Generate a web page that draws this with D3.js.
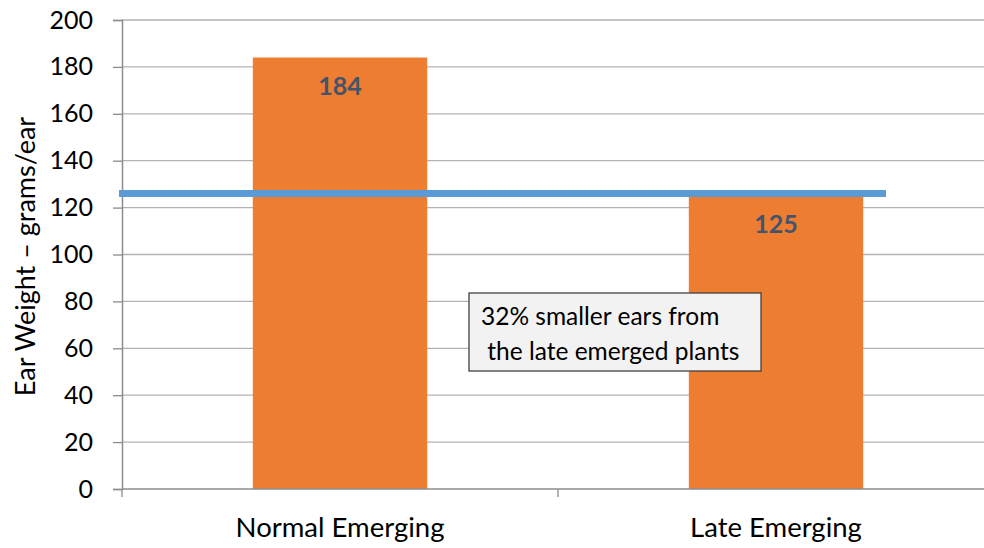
<!DOCTYPE html>
<html>
<head>
<meta charset="utf-8">
<script src="https://cdn.jsdelivr.net/npm/d3@7"></script>
<style>
  html, body { margin: 0; padding: 0; background: #fff; }
  svg { display: block; font-family: Lato, "Open Sans", sans-serif; }
</style>
</head>
<body>
<svg id="chart" width="984" height="548"></svg>
<script>
// Ear weight by emergence timing
const categories = ["Normal Emerging", "Late Emerging"];
const earWeight = [184, 125];
const yTicks = [0, 20, 40, 60, 80, 100, 120, 140, 160, 180, 200];
const referenceValue = 126;
const yTitle = "Ear Weight \u2013 grams/ear";
const noteLines = ["32% smaller ears from", " the late emerged plants"];

const svg = d3.select("#chart");
const plotLeft = 122, plotRight = 994, plotTop = 20, plotBottom = 489;

const x = d3.scaleBand().domain(categories).range([plotLeft, plotRight])
  .paddingInner(0.6).paddingOuter(0.3);
const y = d3.scaleLinear().domain([0, 200]).range([plotBottom, plotTop]);

// horizontal gridlines
svg.append("g").selectAll("line").data(yTicks.filter(d => d > 0)).join("line")
  .attr("x1", plotLeft).attr("x2", 984)
  .attr("y1", d => y(d)).attr("y2", d => y(d))
  .attr("stroke", "#b3b3b3").attr("stroke-width", 1.3);

// y axis
const yAxis = svg.append("g").attr("transform", `translate(${plotLeft},0)`)
  .call(d3.axisLeft(y).tickValues(yTicks).tickSize(9).tickPadding(20));
yAxis.select(".domain").attr("stroke", "#8c8c8c").attr("stroke-width", 1.5);
yAxis.selectAll(".tick line").attr("stroke", "#8c8c8c").attr("stroke-width", 1.3);
yAxis.selectAll(".tick text").attr("font-size", 25).attr("fill", "#000")
  .attr("font-family", "Lato, sans-serif");

// bars
svg.append("g").selectAll("rect").data(categories).join("rect")
  .attr("x", d => x(d)).attr("width", x.bandwidth())
  .attr("y", (d, i) => y(earWeight[i]))
  .attr("height", (d, i) => plotBottom - y(earWeight[i]))
  .attr("fill", "#ed7d31");

// x axis
const xBounds = [plotLeft, plotLeft + x.step(), plotLeft + 2 * x.step()];
svg.append("line").attr("x1", plotLeft).attr("x2", 984).attr("y1", plotBottom).attr("y2", plotBottom)
  .attr("stroke", "#8c8c8c").attr("stroke-width", 1.5);
svg.append("g").selectAll("line").data(xBounds).join("line")
  .attr("x1", d => d).attr("x2", d => d).attr("y1", plotBottom).attr("y2", plotBottom + 8)
  .attr("stroke", "#8c8c8c").attr("stroke-width", 1.3);
svg.append("g").selectAll("text").data(categories).join("text")
  .attr("x", d => x(d) + x.bandwidth() / 2).attr("y", 537)
  .attr("text-anchor", "middle").attr("font-size", 27.5).attr("fill", "#000")
  .text(d => d);

// value labels
svg.append("g").selectAll("text").data(categories).join("text")
  .attr("x", d => x(d) + x.bandwidth() / 2)
  .attr("y", (d, i) => y(earWeight[i]) + 37)
  .attr("text-anchor", "middle").attr("font-size", 25).attr("font-weight", "bold")
  .attr("fill", "#44546a")
  .text((d, i) => earWeight[i]);

// reference line
svg.append("line")
  .attr("x1", 119).attr("x2", 886)
  .attr("y1", y(referenceValue)).attr("y2", y(referenceValue))
  .attr("stroke", "#5b9bd5").attr("stroke-width", 7);

// y title
svg.append("text")
  .attr("transform", `translate(35,${(plotTop + plotBottom) / 2 + 2}) rotate(-90)`)
  .attr("text-anchor", "middle").attr("font-size", 27).attr("fill", "#000")
  .text(yTitle);

// annotation box
const note = svg.append("g");
note.append("rect").attr("x", 469).attr("y", 293).attr("width", 292).attr("height", 78)
  .attr("fill", "#f2f2f2").attr("stroke", "#404040").attr("stroke-width", 1.3);
note.selectAll("text").data(noteLines).join("text")
  .attr("x", 481).attr("y", (d, i) => 325 + i * 35)
  .attr("font-size", 24.5).attr("fill", "#000")
  .attr("xml:space", "preserve").style("white-space", "pre")
  .text(d => d);
</script>
</body>
</html>
